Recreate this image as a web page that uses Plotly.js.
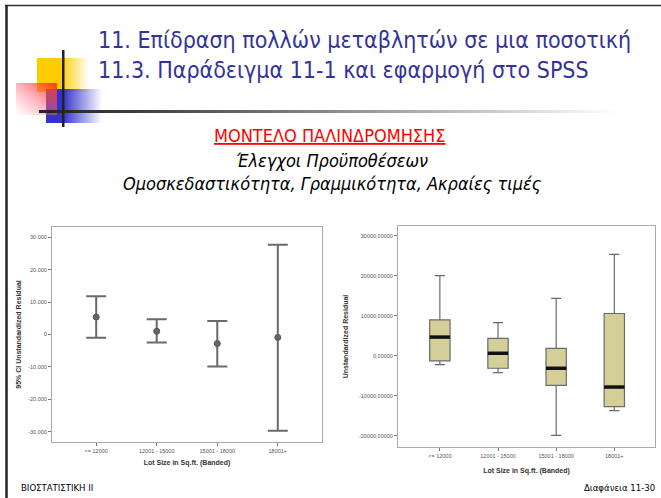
<!DOCTYPE html>
<html>
<head>
<meta charset="utf-8">
<script src="https://cdn.plot.ly/plotly-3.0.1.min.js"></script>
<style>
html,body{margin:0;padding:0;background:#fff;}
#chart{width:661px;height:498px;}
</style>
</head>
<body>
<div id="chart"></div>
<script>
// ---------- data ----------
const categories = ["<= 12000", "12001 - 15000", "15001 - 18000", "18001+"];

// left: 95% CI of unstandardized residual
const ciMean  = [5400, 1000, -2800, -900];
const ciUpper = [11800, 4700, 4200, 27700];
const ciLower = [-1000, -2500, -9900, -29700];

// right: boxplot of unstandardized residual
const boxUpperWhisker = [20100, 8300, 14400, 25400];
const boxQ3           = [9000, 4400, 1900, 10600];
const boxMedian       = [4700, 650, -3100, -7800];
const boxQ1           = [-1250, -3100, -7400, -12700];
const boxLowerWhisker = [-2200, -4200, -19900, -13700];

const leftTickVals  = [-30000, -20000, -10000, 0, 10000, 20000, 30000];
const leftTickText  = ["-30.000", "-20.000", "-10.000", "0", "10.000", "20.000", "30.000"];
const rightTickVals = [-20000, -10000, 0, 10000, 20000, 30000];
const rightTickText = ["-20000,00000", "-10000,00000", "0,00000", "10000,00000", "20000,00000", "30000,00000"];

const slideTitle1 = "11. Επίδραση πολλών μεταβλητών σε μια ποσοτική";
const slideTitle2 = "11.3. Παράδειγμα 11-1 και εφαρμογή στο SPSS";
const heading = "ΜΟΝΤΕΛΟ ΠΑΛΙΝΔΡΟΜΗΣΗΣ";
const sub1 = "Έλεγχοι Προϋποθέσεων";
const sub2 = "Ομοσκεδαστικότητα, Γραμμικότητα, Ακραίες τιμές";
const footerLeft = "ΒΙΟΣΤΑΤΙΣΤΙΚΗ ΙΙ";
const footerRight = "Διαφάνεια 11-30";
const xTitle = "Lot Size in Sq.ft. (Banded)";
const leftYTitle = "95% CI Unstandardized Residual";
const rightYTitle = "Unstandardized Residual";

// ---------- helpers ----------
const W = 661, H = 498;
const px = v => v / W;
const py = v => 1 - v / H;
const idx = categories.map((c, i) => i);
const boxW = 0.35;

const medX = [], medY = [];
categories.forEach((c, i) => { medX.push(i - boxW / 2, i + boxW / 2, null); medY.push(boxMedian[i], boxMedian[i], null); });

const slideFont = '"DejaVu Sans Condensed", "DejaVu Sans", sans-serif';
const axFont = '"Liberation Sans", Arial, sans-serif';

const traces = [
  {
    type: 'scatter', mode: 'markers', x: idx, y: ciMean, xaxis: 'x', yaxis: 'y',
    marker: {symbol: 'circle', size: 6, color: '#666', line: {color: '#555', width: 1}},
    error_y: {type: 'data', symmetric: false,
      array: ciUpper.map((u, i) => u - ciMean[i]),
      arrayminus: ciLower.map((l, i) => ciMean[i] - l),
      width: 10, thickness: 2, color: '#6a6a6a'},
    showlegend: false, hoverinfo: 'skip'
  },
  {
    type: 'box', x: idx, q1: boxQ1, median: boxMedian, q3: boxQ3,
    lowerfence: boxLowerWhisker, upperfence: boxUpperWhisker,
    xaxis: 'x2', yaxis: 'y2', width: boxW, whiskerwidth: 0.5,
    fillcolor: '#D4CF99', line: {color: '#6a6a6a', width: 1.2},
    showlegend: false, hoverinfo: 'skip'
  },
  {
    type: 'scatter', mode: 'lines', x: medX, y: medY, xaxis: 'x2', yaxis: 'y2',
    line: {color: '#111', width: 3.5}, showlegend: false, hoverinfo: 'skip', connectgaps: false
  }
];

const decoSvg = `<svg xmlns='http://www.w3.org/2000/svg' width='661' height='498' viewBox='0 0 661 498'>
<defs>
<linearGradient id='gy' x1='0' x2='1' y1='0' y2='0'><stop offset='0.45' stop-color='#FFCC00'/><stop offset='1' stop-color='#FFCC00' stop-opacity='0'/></linearGradient>
<linearGradient id='gb' x1='0' x2='1' y1='0' y2='0'><stop offset='0.3' stop-color='#3333CC'/><stop offset='1' stop-color='#3333CC' stop-opacity='0'/></linearGradient>
<linearGradient id='gr' x1='1' y1='0' x2='0' y2='1'><stop offset='0' stop-color='#FF3300' stop-opacity='0.95'/><stop offset='0.55' stop-color='#FF6680' stop-opacity='0.45'/><stop offset='1' stop-color='#FF8080' stop-opacity='0'/></linearGradient>
<linearGradient id='gh' x1='0' x2='1' y1='0' y2='0'><stop offset='0' stop-color='#222'/><stop offset='0.2' stop-color='#444'/><stop offset='1' stop-color='#fff'/></linearGradient>
</defs>
<rect x='37' y='58' width='52' height='34' fill='url(#gy)'/>
<rect x='46' y='89' width='56' height='34' fill='url(#gb)'/>
<rect x='16' y='83' width='41' height='32' fill='url(#gr)'/>
<rect x='39' y='110' width='580' height='3' fill='url(#gh)'/>
<rect x='62' y='50' width='2.5' height='77' fill='#222'/>
</svg>`;

const tickFont = {family: axFont, size: 5.5, color: '#555'};
const titleFont = {family: axFont, size: 7, color: '#333', weight: 'bold'};

const layout = {
  width: W, height: H,
  margin: {l: 0, r: 0, t: 0, b: 0},
  paper_bgcolor: '#fff', plot_bgcolor: '#fff',
  showlegend: false,
  xaxis: {
    domain: [px(52), px(322)], anchor: 'y', range: [-0.73, 3.73],
    tickvals: idx, ticktext: categories, tickfont: tickFont,
    ticks: 'outside', ticklen: 3, tickcolor: '#777', showgrid: false, zeroline: false,
    showline: true, linecolor: '#aaa', linewidth: 1, mirror: true,
    title: {text: xTitle, font: titleFont, standoff: 7}
  },
  yaxis: {
    domain: [py(442), py(227)], anchor: 'x', range: [-33200, 33200],
    tickvals: leftTickVals, ticktext: leftTickText, tickfont: tickFont,
    ticks: 'outside', ticklen: 3, tickcolor: '#777', showgrid: false, zeroline: false,
    showline: true, linecolor: '#aaa', linewidth: 1, mirror: true,
    title: {text: leftYTitle, font: titleFont, standoff: 5}
  },
  xaxis2: {
    domain: [px(398), px(655)], anchor: 'y2', range: [-0.72, 3.7],
    tickvals: idx, ticktext: categories, tickfont: tickFont,
    ticks: 'outside', ticklen: 3, tickcolor: '#777', showgrid: false, zeroline: false,
    showline: true, linecolor: '#aaa', linewidth: 1, mirror: true,
    title: {text: xTitle, font: titleFont, standoff: 10}
  },
  yaxis2: {
    domain: [py(447), py(226)], anchor: 'x2', range: [-22800, 32500],
    tickvals: rightTickVals, ticktext: rightTickText, tickfont: tickFont,
    ticks: 'outside', ticklen: 3, tickcolor: '#777', showgrid: false, zeroline: false,
    showline: true, linecolor: '#aaa', linewidth: 1, mirror: true,
    title: {text: rightYTitle, font: titleFont, standoff: 9}
  },
  images: [{
    source: 'data:image/svg+xml;charset=utf-8,' + encodeURIComponent(decoSvg),
    xref: 'paper', yref: 'paper', x: 0, y: 1, sizex: 1, sizey: 1,
    xanchor: 'left', yanchor: 'top', sizing: 'stretch', layer: 'below'
  }],
  shapes: [
    {type: 'line', xref: 'paper', yref: 'paper', x0: px(5), x1: 1, y0: py(5.5), y1: py(5.5), line: {color: '#333', width: 1.5}},
    {type: 'line', xref: 'paper', yref: 'paper', x0: px(6.5), x1: px(6.5), y0: py(5), y1: 0, line: {color: '#222', width: 2.5}}
  ],
  annotations: [
    {text: slideTitle1, xref: 'paper', yref: 'paper', x: px(96), y: py(40), xanchor: 'left', yanchor: 'middle', showarrow: false,
     font: {family: slideFont, size: 23, color: '#333399'}},
    {text: slideTitle2, xref: 'paper', yref: 'paper', x: px(96), y: py(70), xanchor: 'left', yanchor: 'middle', showarrow: false,
     font: {family: slideFont, size: 23, color: '#333399'}},
    {text: heading, xref: 'paper', yref: 'paper', x: px(330), y: py(135), xanchor: 'center', yanchor: 'middle', showarrow: false,
     font: {family: slideFont, size: 18, color: '#FF0000', lineposition: 'under'}},
    {text: sub1, xref: 'paper', yref: 'paper', x: px(332), y: py(160.5), xanchor: 'center', yanchor: 'middle', showarrow: false,
     font: {family: slideFont, size: 18, color: '#000', style: 'italic'}},
    {text: sub2, xref: 'paper', yref: 'paper', x: px(332), y: py(184), xanchor: 'center', yanchor: 'middle', showarrow: false,
     font: {family: slideFont, size: 18, color: '#000', style: 'italic'}},
    {text: footerLeft, xref: 'paper', yref: 'paper', x: px(19), y: py(487), xanchor: 'left', yanchor: 'middle', showarrow: false,
     font: {family: slideFont, size: 9.5, color: '#000'}},
    {text: footerRight, xref: 'paper', yref: 'paper', x: px(657), y: py(487), xanchor: 'right', yanchor: 'middle', showarrow: false,
     font: {family: slideFont, size: 9.5, color: '#000'}}
  ]
};

Plotly.newPlot('chart', traces, layout, {staticPlot: true, displayModeBar: false});
</script>
</body>
</html>
